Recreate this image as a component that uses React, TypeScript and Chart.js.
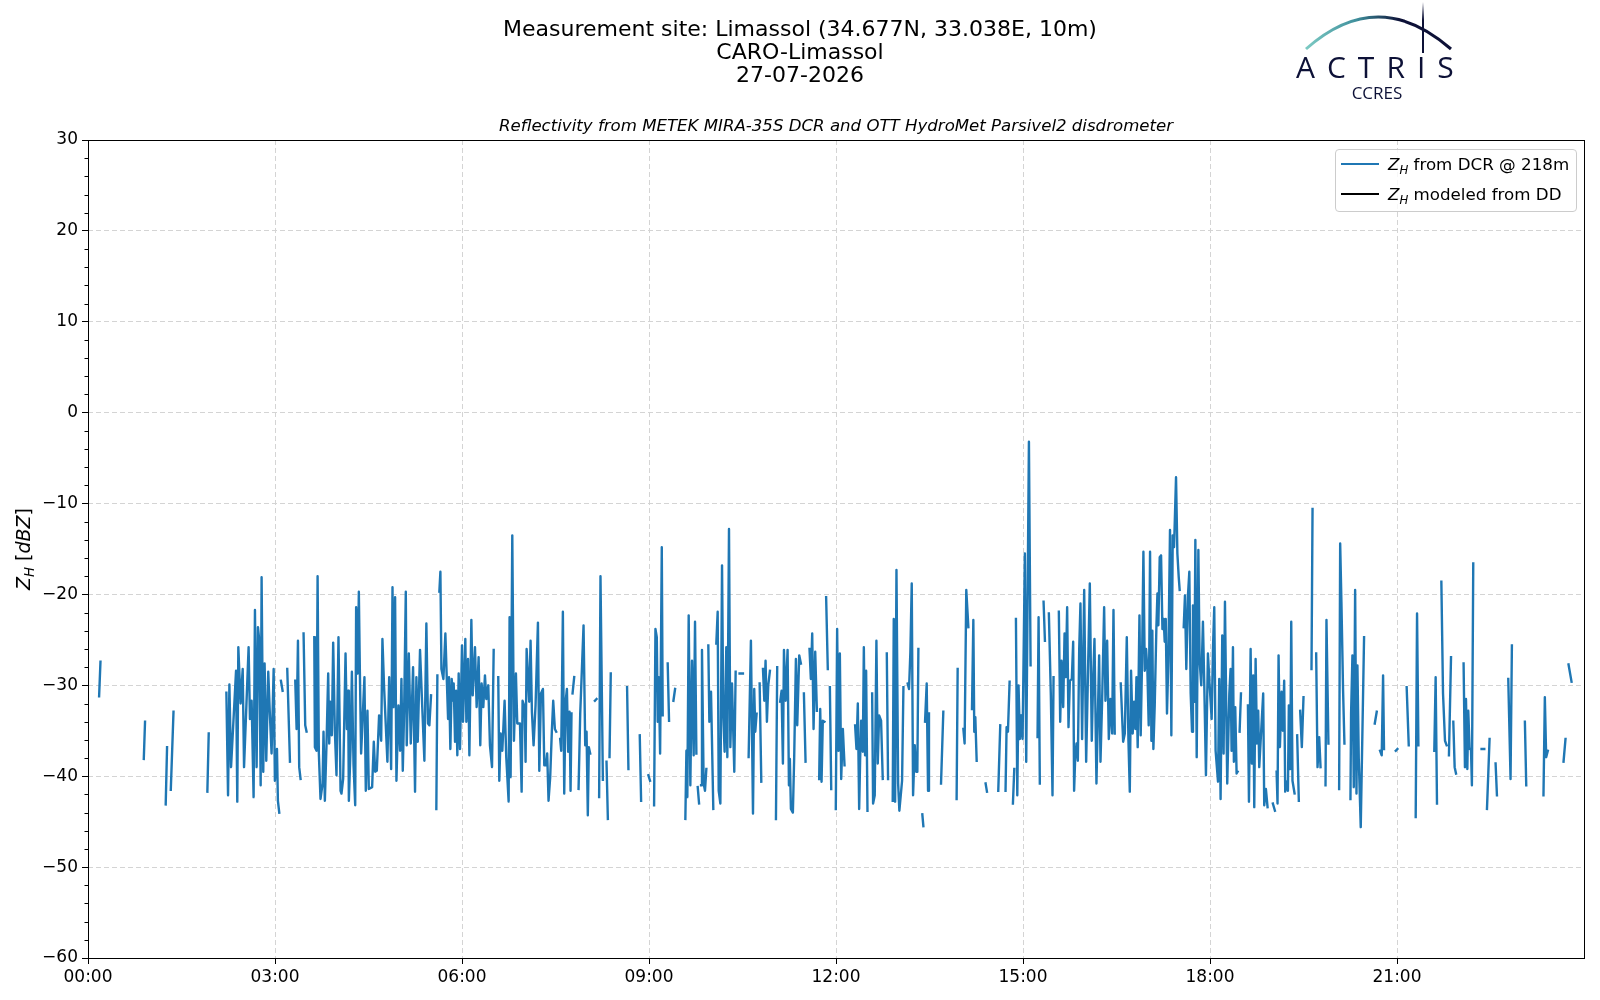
import React, { useEffect, useRef } from 'react';
import Chart from 'chart.js/auto';

type Row = [number, number] | null;

// [minutes after 00:00, Z_H in dBZ]; null = no radar data (line break)
const dcr0000: Row[] = [
  [10.7, -31.2], [12.0, -27.4], null,
  [53.7, -38.1], [54.9, -34.0], null,
  [74.8, -43.1], [76.1, -36.8], null,
  [79.7, -41.5], [82.3, -32.9], null,
  [114.9, -41.7], [116.2, -35.3], null,
  [133.2, -30.8], [134.8, -42.1], [136.1, -29.9], [137.7, -39.0],
];

const dcr0220: Row[] = [
  [142.5, -28.4], [143.7, -42.8], [144.7, -25.8], [146.9, -32.0], [148.9, -28.2], [150.2, -39.0],
  [154.6, -25.8], [155.9, -33.7], [157.5, -31.7], [159.4, -42.3], [160.7, -21.7], [162.3, -39.0],
  [163.6, -23.6], [164.9, -25.1], [166.2, -41.0], [167.1, -18.1], [168.7, -39.5], [170.0, -27.6],
  [171.6, -38.3], [173.5, -28.5], [175.1, -33.3], [176.7, -37.5], [178.7, -28.2], [179.9, -40.5],
  [181.9, -37.0], [182.8, -42.7], [184.1, -44.0], null,
  [185.7, -29.5], [187.3, -30.6], null,
  [191.8, -28.2], [194.4, -38.4], null,
  [199.5, -29.5], [200.8, -34.8], [202.1, -25.1], [203.3, -39.0], [204.6, -40.3], null,
  [207.5, -24.3], [209.1, -34.4], [210.4, -35.1], null,
  [217.8, -24.7], [218.4, -36.8], [220.0, -37.2], [221.0, -18.0], [222.2, -37.5], [223.8, -42.5],
  [225.8, -40.8], [226.7, -35.1], [228.0, -42.7], [229.6, -36.4], [231.2, -28.7], [232.2, -36.4],
  [233.1, -31.8], [234.7, -35.5], [236.0, -25.3], [237.6, -35.0], [239.2, -39.9], [241.1, -24.7],
  [243.1, -41.6], [244.0, -41.9], [245.6, -40.3], [247.9, -26.5], [249.2, -34.8], [250.4, -30.6],
  [251.1, -42.7], [252.7, -37.0], [254.0, -28.5], [255.6, -38.8], [257.2, -43.2], [258.1, -21.4],
  [259.7, -28.7], [260.7, -19.7], [261.7, -28.5], [262.9, -37.5], [264.5, -33.3], [266.1, -29.1],
  [267.4, -41.6], [269.0, -32.8], [270.3, -41.4], [273.5, -41.2], [275.1, -36.2], [276.4, -39.5],
  [278.0, -39.4], [280.2, -33.3],
];

const dcr0440: Row[] = [
  [282.2, -36.1], [283.4, -24.9], [285.0, -30.2], [288.2, -38.4], [289.9, -29.1], [291.8, -39.2],
  [293.1, -19.2], [294.0, -32.4], [295.6, -20.3], [296.9, -40.5], [298.8, -32.2], [300.4, -37.2],
  [301.7, -29.3], [303.0, -39.4], [304.3, -32.8], [305.9, -19.7], [306.8, -36.6], [308.8, -26.5],
  [310.7, -36.4], [312.9, -28.0], [314.8, -41.7], [316.1, -29.1], [317.4, -36.2], [319.6, -26.1],
  [321.6, -32.0], [323.8, -38.3], [325.7, -23.2], [327.3, -34.2], [328.6, -34.4], [330.2, -31.1], null,
  [335.3, -43.6], [336.3, -28.9], null,
  [338.2, -19.7], [339.2, -17.5], [340.2, -28.2], [342.1, -29.3], [344.0, -24.3], [345.3, -29.1],
  [346.6, -33.7], [347.5, -29.1], [348.8, -37.0], [350.1, -29.3], [351.4, -31.7], [352.0, -29.8],
  [353.3, -36.2], [354.3, -30.6], [355.5, -37.7], [356.8, -28.7], [358.1, -37.0], [360.0, -25.6],
  [361.0, -34.0], [363.2, -24.9], [364.2, -34.0], [365.8, -27.1], [367.1, -37.7], [369.0, -22.8],
  [370.3, -31.1], [372.5, -25.8], [374.1, -32.4], [376.0, -26.9], [377.6, -36.6], [378.9, -29.8],
  [380.5, -32.4], [382.1, -28.9], [383.4, -31.5], [385.3, -30.0], [386.9, -36.6], [388.9, -39.0],
  [390.5, -26.1], null,
  [394.9, -29.1], [395.9, -40.5], [397.2, -35.3], [398.8, -37.2], [401.0, -31.7], [402.6, -37.9],
  [404.9, -42.8], [405.8, -22.5], [406.8, -40.1], [408.4, -13.5], [410.0, -36.1], [411.9, -28.7],
  [413.2, -34.2], [415.8, -34.2], [417.4, -41.7], [418.3, -31.7], [420.3, -32.4], [421.2, -38.4],
  [422.2, -26.0],
];

const dcr0700: Row[] = [
  [424.7, -31.8], [426.0, -25.1], [427.3, -32.9], [428.9, -36.6], [430.8, -32.2], [433.1, -23.1],
  [434.4, -39.4], [436.0, -30.9], [437.9, -30.4], [439.2, -38.8], [440.8, -38.8], [442.0, -37.5],
  [443.3, -42.7], [444.9, -40.1], [446.5, -35.0], [447.8, -31.7], [449.4, -34.8], [450.7, -35.1], null,
  [454.5, -35.9], [455.5, -37.2], [457.1, -21.9], [458.4, -41.9], [459.7, -31.8], [461.0, -30.4],
  [462.2, -37.3], [463.5, -32.9], [464.5, -41.6], [465.4, -33.1], null,
  [466.4, -30.9], [468.0, -29.1], null,
  [472.2, -41.4], [473.8, -33.1], [477.0, -23.4], [478.6, -36.6], [479.9, -35.1], [481.1, -44.3],
  [482.1, -36.8], [483.4, -37.5], null,
  [487.9, -31.7], [489.5, -31.5], null,
  [492.0, -42.3], [493.3, -18.0], [495.6, -40.4], null,
  [499.1, -38.4], [500.4, -44.7], null,
  [502.0, -37.9], [503.2, -28.7], null,
  [518.9, -30.2], [520.2, -39.2], null,
  [531.1, -35.5], [532.4, -42.7], null,
  [539.4, -39.9], [541.0, -40.5], null,
  [544.9, -43.2], [546.2, -23.8], [547.5, -24.7], [548.4, -34.0], [549.4, -29.1], [550.7, -37.5],
  [552.3, -14.8], [553.2, -33.3], null,
  [558.0, -27.6], [559.3, -33.9], null,
  [563.5, -31.7], [565.1, -30.4], null,
];

const dcr0930: Row[] = [
  [575.0, -44.7], [576.0, -37.2], [576.9, -42.3], [578.2, -22.3], [579.8, -41.0], [581.4, -27.3],
  [583.0, -37.7], [584.3, -23.0], [585.6, -37.5], null,
  [586.9, -41.2], [588.2, -43.0], null,
  [590.1, -41.0], [591.0, -26.1], [592.6, -40.8], [593.9, -41.6], [595.2, -39.2], null,
  [597.1, -25.6], [598.1, -34.0], [599.7, -30.7], [601.9, -43.6], null,
  [604.8, -25.4], [606.1, -21.9], [607.1, -41.6], [608.7, -43.0], [610.3, -16.8], [611.5, -33.3],
  [612.8, -37.3], [614.4, -25.8], [615.4, -37.9], [617.0, -12.8], [618.3, -36.8], [619.9, -29.8],
  [620.8, -29.8], [622.1, -39.5], [623.4, -28.5], null,
  [627.2, -28.7], [630.4, -28.7], null,
  [635.9, -37.9], [638.1, -25.1], [640.1, -44.1], [641.3, -30.4], [642.3, -35.1], [643.6, -33.1], null,
  [646.5, -29.8], [648.1, -40.6], null,
  [649.7, -28.2], [651.0, -31.7], [652.2, -27.3], [653.5, -34.0], [654.8, -30.0], [656.4, -28.4], null,
  [662.2, -44.7], [663.4, -28.0], null,
  [666.3, -31.8], [667.6, -30.6], [668.9, -38.6], [669.9, -26.1], [671.5, -31.7], [673.4, -26.1],
  [674.7, -41.0], [675.6, -38.1], [676.6, -43.6], [678.5, -44.0], [679.8, -37.7], [681.4, -27.1],
  [682.7, -34.4], [684.6, -26.7], [686.2, -27.6], null,
  [689.1, -30.9], [690.7, -38.4], null,
  [694.5, -26.0], [695.8, -29.3], [697.1, -24.3], [698.4, -34.8], [700.0, -26.3], [701.6, -32.8], null,
  [703.8, -40.3], [704.8, -32.6],
];

const dcr1145: Row[] = [
  [706.1, -40.6], [707.3, -33.9], [708.9, -34.0], null,
  [710.5, -20.3], [712.1, -28.2], null,
  [714.1, -30.2], [715.4, -41.4], null,
  [719.8, -43.6], [721.1, -23.8], [722.4, -37.2], [723.7, -26.5], [725.0, -40.3], [726.6, -34.8],
  [728.2, -38.8], null,
  [738.4, -34.4], [739.7, -37.0], [741.0, -32.0], [742.3, -43.6], [743.2, -38.3], [744.2, -33.9],
  [745.8, -37.3], [746.8, -25.8], [748.0, -37.7], [749.0, -28.4], [750.3, -43.8], null,
  [754.8, -30.9], [755.7, -43.0], [757.3, -42.1], [758.9, -25.1], [760.2, -38.6], [761.5, -33.3],
  [763.4, -33.9], [765.0, -40.3], null,
  [768.9, -26.5], [770.1, -40.3], null,
  [774.6, -42.7], [775.6, -22.7], [776.9, -42.8], [778.2, -17.3], [779.8, -40.8], [781.0, -43.8],
  [783.6, -40.5], [784.9, -30.2], null,
  [789.0, -29.8], [790.3, -30.4], [791.6, -26.3], [792.9, -18.8], [794.2, -42.1], [795.8, -36.6],
  [797.1, -39.5], [798.3, -39.5], [799.3, -26.0], null,
  [803.1, -44.2], [804.1, -45.5], null,
  [805.7, -34.0], [807.3, -29.8], [808.6, -41.6], [809.5, -33.1], null,
  [821.1, -40.8], [823.3, -32.9], null,
  [836.1, -42.5], [837.1, -28.2], null,
  [842.6, -34.8], [843.8, -36.4], [845.4, -19.5], [847.4, -23.6], null,
];

const dcr1410: Row[] = [
  [850.9, -32.6], [852.2, -22.8], [853.1, -35.1], [854.1, -33.5], [855.4, -38.3], null,
  [864.0, -40.8], [865.3, -41.7], null,
  [876.2, -41.6], [878.1, -34.4], null,
  [883.2, -41.6], [884.2, -34.6], [885.5, -35.1], [887.1, -29.6], null,
  [890.3, -43.0], [891.6, -39.2], null,
  [893.2, -22.7], [894.5, -42.1], [895.7, -30.0], [897.0, -35.9], [898.3, -33.3], [899.6, -35.9],
  [901.8, -15.5], [903.1, -38.4], [905.7, -3.2], [907.3, -27.8], null,
  [914.0, -35.7], [915.0, -22.5], [916.2, -40.8], null,
  [919.8, -20.8], [921.1, -25.1], null,
  [924.9, -22.1], [926.8, -31.1], [928.4, -42.1], [929.4, -29.1], null,
  [934.5, -21.9], [935.8, -34.0], [937.1, -27.3], [938.7, -32.4], [940.0, -24.3], [941.2, -29.1],
  [942.5, -21.4], [943.8, -34.6], [945.1, -29.5], [947.0, -29.3], [948.3, -25.2], [949.2, -41.6],
  [950.2, -38.1], [951.5, -36.4], [952.8, -38.3], [954.1, -26.0], [955.3, -21.0], [956.9, -35.9],
  [958.9, -19.5], [960.8, -38.4], [962.4, -29.5], [964.3, -18.8], [966.2, -36.1], [967.5, -29.5],
  [968.8, -24.9], [970.7, -40.8], [973.3, -26.7], [974.6, -38.4], [976.2, -31.5], [978.1, -21.4],
  [979.4, -31.7], [981.0, -25.1], [982.6, -35.9], [984.2, -31.5], [985.8, -35.3], [987.1, -21.7],
  [988.3, -35.3], null,
];

const dcr1630: Row[] = [
  [994.1, -29.8], [996.4, -36.2], [998.0, -35.3], [999.9, -24.7], [1001.5, -36.1], [1002.8, -41.7],
  [1004.0, -28.4], [1005.6, -35.3], [1006.9, -31.8], [1008.2, -34.8], [1009.2, -29.1], [1010.4, -36.8],
  [1012.1, -22.3], [1013.3, -35.5], [1014.6, -27.3], [1015.9, -15.3], [1017.2, -28.4], [1018.5, -26.0],
  [1019.7, -28.2], [1021.0, -34.4], [1022.3, -15.3], [1023.6, -36.1], [1024.5, -24.0], [1025.5, -37.0],
  [1026.8, -32.2], [1028.4, -23.6], [1029.4, -19.9], [1030.3, -23.4], [1031.6, -15.9], [1032.9, -15.7],
  [1034.2, -23.8], [1035.4, -22.7], [1036.4, -25.2], [1037.4, -22.7], [1038.6, -33.1], [1039.9, -27.3],
  [1041.5, -12.9], [1042.8, -35.5], [1044.1, -13.5], [1045.4, -14.8], [1047.3, -7.1], [1048.6, -15.5],
  [1049.9, -18.1], [1050.8, -19.5], null,
  [1054.7, -23.6], [1055.9, -20.1], [1057.2, -28.2], [1058.8, -20.1], [1060.1, -17.5], [1061.4, -30.9],
  [1062.7, -35.1], [1063.6, -21.2], [1064.9, -31.8], [1065.9, -14.0], [1067.2, -37.9], [1068.8, -15.1],
  [1070.0, -27.3], [1071.6, -30.0], [1073.2, -23.0], [1074.5, -30.0], [1076.1, -39.9], [1078.0, -26.5],
  [1079.3, -29.3], [1081.6, -33.7], [1082.9, -25.8], [1084.1, -21.4], [1085.4, -37.2], [1087.7, -40.6],
  [1088.9, -29.3], [1090.2, -42.5], [1091.8, -24.5], [1093.1, -37.5], [1094.4, -20.8], [1095.7, -33.1],
  [1096.6, -40.8], [1098.6, -30.9], [1099.8, -28.2], [1100.8, -37.2], [1102.1, -25.8], [1103.0, -38.4],
  [1104.3, -32.4], [1105.6, -39.7], [1106.6, -39.5], null,
  [1108.5, -35.1], [1109.8, -30.9], null,
  [1116.5, -32.2], [1117.5, -42.8], [1119.1, -26.0], [1120.3, -38.6], [1121.6, -28.9], [1122.6, -43.4],
  [1123.9, -27.1], [1125.2, -36.4], [1126.4, -32.8], [1127.4, -39.0],
];

const dcr1850: Row[] = [
  [1131.2, -30.9], [1132.2, -43.2], [1133.8, -41.4], [1135.4, -43.4], null,
  [1140.5, -43.0], [1142.5, -43.8], null,
  [1144.1, -39.5], [1145.0, -43.0], [1146.0, -26.7], [1147.3, -36.8], [1148.9, -30.7], [1150.1, -35.0],
  [1151.4, -29.5], [1152.4, -41.7], [1153.7, -40.6], [1155.0, -41.6], [1155.9, -32.2], [1157.2, -39.2],
  [1158.2, -23.0], [1159.4, -40.5], [1161.4, -41.9], null,
  [1163.9, -35.5], [1165.5, -42.7], null,
  [1166.8, -32.8], [1168.4, -36.8], [1170.0, -31.3], null,
  [1177.7, -28.2], [1178.7, -10.6], null,
  [1182.2, -26.5], [1183.5, -39.0], [1185.1, -35.7], [1186.4, -39.0], null,
  [1191.2, -41.0], [1192.1, -22.8], [1194.0, -36.4], null,
  [1204.3, -41.4], [1205.3, -14.4], [1206.5, -20.8], [1208.1, -30.6], [1209.4, -36.4], null,
  [1215.2, -42.5], [1215.8, -33.1], [1217.1, -26.7], [1218.4, -41.2], [1219.7, -19.5], [1221.0, -41.9],
  [1221.9, -27.8], [1223.2, -38.1], [1225.1, -45.6], [1228.3, -24.7], null,
  [1238.6, -34.2], [1240.5, -32.9], null,
  [1243.7, -37.2], [1245.3, -37.7], [1246.6, -28.9], [1247.5, -37.0], null,
  [1258.8, -37.2], [1260.4, -37.0], null,
  [1269.3, -30.2], [1271.3, -36.6], null,
];

const dcr2110: Row[] = [
  [1278.0, -44.5], [1279.3, -22.1], [1280.6, -36.6], null,
  [1295.9, -37.2], [1297.2, -29.1], [1298.5, -43.0], null,
  [1302.7, -18.6], [1304.3, -30.9], [1306.2, -36.1], [1307.8, -36.6], null,
  [1310.0, -37.7], [1312.0, -26.9], null,
  [1314.2, -34.0], [1315.5, -39.0], [1316.8, -39.7], null,
  [1324.1, -27.6], [1325.4, -39.0], [1326.4, -31.5], [1327.7, -39.2], [1328.6, -32.8], [1329.9, -37.0],
  [1331.2, -37.0], [1332.1, -41.0], [1333.4, -16.6], null,
  [1341.4, -37.0], [1344.0, -37.0], null,
  [1346.6, -43.6], [1349.1, -35.9], null,
  [1354.9, -38.6], [1356.2, -42.1], null,
  [1367.1, -29.3], [1369.3, -40.3], [1370.6, -25.6], null,
  [1383.1, -34.0], [1384.4, -41.0], null,
  [1401.0, -42.1], [1402.3, -31.3], [1403.6, -37.9], [1405.2, -37.2], null,
  [1420.3, -38.4], [1422.2, -35.9], null,
  [1425.1, -27.7], [1428.0, -29.6],
];

const zhFromDcr: Row[] = [
  ...dcr0000, ...dcr0220, ...dcr0440, ...dcr0700, ...dcr0930,
  ...dcr1145, ...dcr1410, ...dcr1630, ...dcr1850, ...dcr2110,
];
const zhModeledDd: Row[] = []; // no disdrometer data on this day

const timeTickMinutes = [0, 180, 360, 540, 720, 900, 1080, 1260];
const timeTickLabels = ['00:00', '03:00', '06:00', '09:00', '12:00', '15:00', '18:00', '21:00'];
const zhTicks = [-60, -50, -40, -30, -20, -10, 0, 10, 20, 30];

const FONT = "'DejaVu Sans', sans-serif";
const NAVY = '#0d1137';

const toPoints = (rows: Row[]) => {
  let lastX = 0;
  return rows.map((r) => {
    if (!r) return { x: lastX, y: null as number | null };
    lastX = r[0];
    return { x: r[0], y: r[1] as number | null };
  });
};

// matplotlib-like box round the axes and minor ticks on the left spine
const framePlugin = {
  id: 'frame',
  afterDraw(chart: any) {
    const { ctx, chartArea } = chart;
    const y = chart.scales.y;
    ctx.save();
    ctx.strokeStyle = '#000';
    ctx.lineWidth = 1;
    for (let v = -60; v <= 30; v += 2) {
      if (v % 10 === 0) continue;
      const py = Math.round(y.getPixelForValue(v)) + 0.5;
      ctx.beginPath();
      ctx.moveTo(chartArea.left - 3.5, py);
      ctx.lineTo(chartArea.left, py);
      ctx.stroke();
    }
    ctx.strokeRect(
      Math.round(chartArea.left) + 0.5,
      Math.round(chartArea.top) + 0.5,
      Math.round(chartArea.right - chartArea.left),
      Math.round(chartArea.bottom - chartArea.top)
    );
    ctx.restore();
  },
};

const ZH = () => (
  <span style={{ fontStyle: 'italic' }}>
    Z<span style={{ fontSize: '70%', position: 'relative', top: '0.3em' }}>H</span>
  </span>
);

const ReflectivityChart: React.FC = () => {
  const canvasRef = useRef<HTMLCanvasElement>(null);
  const chartRef = useRef<Chart | null>(null);

  useEffect(() => {
    document.body.style.margin = '0';
    if (!canvasRef.current) return;
    if (chartRef.current) chartRef.current.destroy();

    const tickFont = { family: FONT, size: 17 };
    chartRef.current = new Chart(canvasRef.current, {
      type: 'line',
      data: {
        datasets: [
          {
            label: 'Z_H from DCR @ 218m',
            data: toPoints(zhFromDcr) as any,
            borderColor: '#1f77b4',
            borderWidth: 2.4,
            pointRadius: 0,
            tension: 0,
            spanGaps: false,
            borderCapStyle: 'square',
            borderJoinStyle: 'round',
          },
          {
            label: 'Z_H modeled from DD',
            data: toPoints(zhModeledDd) as any,
            borderColor: '#000000',
            borderWidth: 2.4,
            pointRadius: 0,
          },
        ],
      },
      options: {
        animation: false,
        responsive: false,
        devicePixelRatio: 1,
        layout: { padding: { top: 140, right: 16, left: 0, bottom: 0 } },
        plugins: {
          legend: { display: false },
          tooltip: { enabled: false },
        },
        scales: {
          x: {
            type: 'linear',
            min: 0,
            max: 1440,
            afterFit: (s: any) => { s.height = 42; },
            afterBuildTicks: (s: any) => { s.ticks = timeTickMinutes.map((v) => ({ value: v })); },
            grid: { color: '#d4d4d4', lineWidth: 1, tickLength: 6, tickColor: '#000', drawTicks: true },
            border: { display: false, dash: [5, 3] },
            ticks: {
              font: tickFont,
              color: '#000',
              padding: 3,
              maxRotation: 0,
              autoSkip: false,
              callback: (v: any) => timeTickLabels[timeTickMinutes.indexOf(Number(v))] ?? '',
            },
          },
          y: {
            type: 'linear',
            min: -60,
            max: 30,
            afterFit: (s: any) => { s.width = 88; },
            afterBuildTicks: (s: any) => { s.ticks = zhTicks.map((v) => ({ value: v })); },
            grid: { color: '#d4d4d4', lineWidth: 1, tickLength: 6, tickColor: '#000', drawTicks: true },
            border: { display: false, dash: [5, 3] },
            ticks: {
              font: tickFont,
              color: '#000',
              padding: 4,
              callback: (v: any) => (Number(v) < 0 ? '\u2212' + Math.abs(Number(v)) : String(v)),
            },
          },
        },
      },
      plugins: [framePlugin],
    });

    return () => {
      if (chartRef.current) {
        chartRef.current.destroy();
        chartRef.current = null;
      }
    };
  }, []);

  return <canvas ref={canvasRef} width={1600} height={1000} style={{ position: 'absolute', left: 0, top: 0 }} />;
};

const Logo: React.FC = () => (
  <>
    <svg width={1600} height={110} style={{ position: 'absolute', left: 0, top: 0, pointerEvents: 'none' }}>
      <defs>
        <linearGradient id="arcGrad" gradientUnits="userSpaceOnUse" x1={1306} y1={0} x2={1451} y2={0}>
          <stop offset="0" stopColor="#7ccac3" />
          <stop offset="0.35" stopColor="#3f8f9c" />
          <stop offset="0.65" stopColor={NAVY} />
          <stop offset="1" stopColor={NAVY} />
        </linearGradient>
        <linearGradient id="mastGrad" gradientUnits="userSpaceOnUse" x1={0} y1={2} x2={0} y2={53}>
          <stop offset="0" stopColor={NAVY} stopOpacity="0" />
          <stop offset="0.35" stopColor={NAVY} stopOpacity="1" />
          <stop offset="1" stopColor={NAVY} stopOpacity="1" />
        </linearGradient>
      </defs>
      <path d="M1306,49 Q1378,-15 1451,49" fill="none" stroke="url(#arcGrad)" strokeWidth={3} />
      <line x1={1423} y1={2} x2={1423} y2={53} stroke="url(#mastGrad)" strokeWidth={2} />
    </svg>
    <div
      style={{
        position: 'absolute', left: 1296, top: 52, fontFamily: "'Open Sans', sans-serif",
        fontSize: 30, lineHeight: '30px', letterSpacing: 12, color: NAVY, whiteSpace: 'nowrap',
      }}
    >
      ACTRIS
    </div>
    <div
      style={{
        position: 'absolute', left: 1377, top: 84, transform: 'translateX(-50%)',
        fontFamily: "'Open Sans', sans-serif", fontSize: 17, lineHeight: '17px', color: NAVY,
      }}
    >
      CCRES
    </div>
  </>
);

const App: React.FC = () => (
  <div style={{ position: 'relative', width: 1600, height: 1000, background: '#fff', fontFamily: FONT, color: '#000' }}>
    <ReflectivityChart />
    <div style={{ position: 'absolute', left: 0, top: 17, width: 1600, textAlign: 'center', fontSize: 22, lineHeight: '23px' }}>
      <div>Measurement site: Limassol (34.677N, 33.038E, 10m)</div>
      <div>CARO-Limassol</div>
      <div>27-07-2026</div>
    </div>
    <div style={{ position: 'absolute', left: 88, top: 116, width: 1496, textAlign: 'center', fontSize: 16.6, lineHeight: '19px', fontStyle: 'italic' }}>
      Reflectivity from METEK MIRA-35S DCR and OTT HydroMet Parsivel2 disdrometer
    </div>
    <div
      style={{
        position: 'absolute', left: 22.5, top: 549, transform: 'translate(-50%, -50%) rotate(-90deg)',
        whiteSpace: 'nowrap', fontSize: 19,
      }}
    >
      <ZH /> [<span style={{ fontStyle: 'italic' }}>dBZ</span>]
    </div>
    <div
      style={{
        position: 'absolute', left: 1335, top: 149, width: 242, height: 63, boxSizing: 'border-box',
        border: '1px solid #cccccc', borderRadius: 4, background: 'rgba(255,255,255,0.8)', fontSize: 16.7,
      }}
    >
      <div style={{ position: 'absolute', left: 5, top: 13, width: 38, height: 2.4, background: '#1f77b4' }} />
      <div style={{ position: 'absolute', left: 52, top: 3, whiteSpace: 'nowrap', lineHeight: '22px' }}>
        <ZH /> from DCR @ 218m
      </div>
      <div style={{ position: 'absolute', left: 5, top: 43, width: 38, height: 2.4, background: '#000' }} />
      <div style={{ position: 'absolute', left: 52, top: 33, whiteSpace: 'nowrap', lineHeight: '22px' }}>
        <ZH /> modeled from DD
      </div>
    </div>
    <Logo />
  </div>
);

export default App;
